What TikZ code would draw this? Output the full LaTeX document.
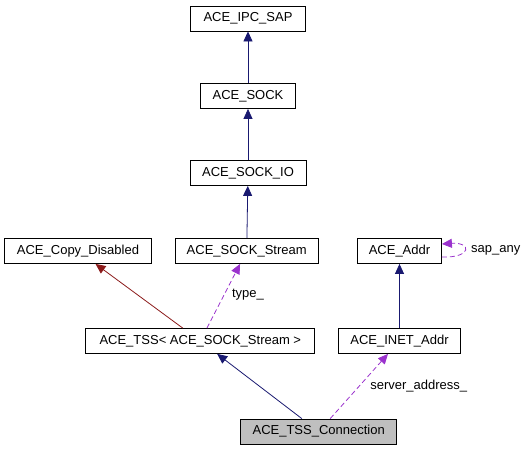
\documentclass[tikz,border=0pt]{standalone}
\usepackage{fontspec}
\setmainfont{Liberation Sans}
\usetikzlibrary{arrows.meta,calc,positioning}
\definecolor{inheritblue}{HTML}{191970}
\definecolor{privred}{HTML}{8B1A1A}
\definecolor{usepurple}{HTML}{9A32CD}

\begin{document}
\begin{tikzpicture}[x=1pt,y=-1pt,
		cls/.style={draw=black,line width=0.8pt,fill=white,minimum height=25pt,inner sep=0pt,font=\fontsize{13}{15}\selectfont},
		inherit/.style={inheritblue,line width=0.8pt,-{Triangle[length=10pt,width=9pt]}},
		private/.style={privred,line width=0.8pt,-{Triangle[length=10pt,width=9pt]}},
		usage/.style={usepurple,line width=0.8pt,dash pattern=on 5pt off 3pt,-{Triangle[length=10pt,width=9pt]}},
		lbl/.style={font=\fontsize{13}{15}\selectfont,inner sep=0pt}]
		\useasboundingbox (0,0) rectangle (525,451);
		\node[cls,minimum width=115pt] (ipcsap) at (248,18.5) {ACE\_IPC\_SAP};
		\node[cls,minimum width=95pt] (sock) at (248,96) {ACE\_SOCK};
		\node[cls,minimum width=116pt] (sockio) at (248,173) {ACE\_SOCK\_IO};
		\node[cls,minimum width=147pt] (copydis) at (78,251) {ACE\_Copy\_Disabled};
		\node[cls,minimum width=143pt] (sockstream) at (246.7,251) {ACE\_SOCK\_Stream};
		\node[cls,minimum width=84pt] (addr) at (399.5,251) {ACE\_Addr};
		\node[cls,minimum width=229pt] (tss) at (200.3,341) {ACE\_TSS< ACE\_SOCK\_Stream >};
		\node[cls,minimum width=122pt] (inetaddr) at (399.5,341) {ACE\_INET\_Addr};
		\node[cls,minimum width=156pt,fill=black!25] (conn) at (318.7,431.5) {ACE\_TSS\_Connection};
		
		\draw[inherit] (sock) -- (ipcsap);
		\draw[inherit] (sockio) -- (sock);
		\draw[inherit] (sockstream) -- (sockio);
		\draw[private] (tss) -- (copydis);
		\draw[usage] (tss) -- (sockstream);
		\draw[inherit] (inetaddr) -- (addr);
		\draw[inherit] (conn) -- (tss);
		\draw[usage] (conn) -- (inetaddr);
		\draw[usage] ($(addr.east)+(0,6)$) .. controls (472,258) and (472,242) .. ($(addr.east)+(0,-7)$);
		
		\node[lbl] (typelbl) at (248,295) {type\_};
		\node[lbl,right] (sapany) at (471,250) {sap\_any};
		\node[lbl] (srvlbl) at (418.7,385.7) {server\_address\_};
	\end{tikzpicture}
\end{document}
